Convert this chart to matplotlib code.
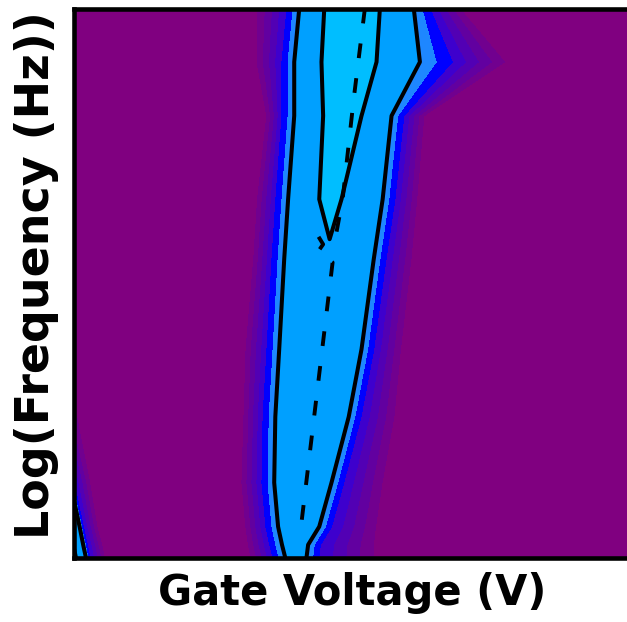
import numpy as np
import matplotlib
matplotlib.use('Agg')
import matplotlib.pyplot as plt

# Frequency rows (0 = lowest, 100 = highest), arbitrary units
freq_rows = [100, 90.3, 80.5, 65.3, 54.4, 38.0, 25.7, 13.7, 5.7, 2.4, 0]

# Gate-voltage positions of the response edges on each row
grad_left = [31.8, 31.8, 34.0, 32.2, 31.5, 30.0, 29.7, 29.3, 30.0, 30.4, 30.9]
blue_left = [38.3, 37.4, 37.4, 36.3, 35.6, 34.7, 34.0, 33.8, 34.5, 35.2, 35.8]
outer_left = [40.5, 39.6, 39.6, 38.5, 37.8, 36.9, 36.2, 36.0, 36.7, 37.4, 38.0]
inner_left = [45.0, 44.5, 44.8, 44.1, 41.8, 40.5, 39.4, 38.5, 38.5, 38.5, 38.9]
ridge_mid = [50.0, 49.5, 48.3, 46.1, 45.9, 44.3, 42.7, 41.0, 40.3, 39.8, 39.8]
inner_right = [55.0, 54.4, 51.7, 48.1, 49.9, 48.1, 45.9, 43.8, 42.3, 40.9, 40.7]
outer_right = [61.1, 62.2, 57.1, 55.5, 53.9, 51.7, 49.4, 46.3, 44.1, 42.1, 41.8]
blue_right = [64.0, 68.0, 59.3, 57.7, 56.1, 53.9, 51.6, 48.5, 46.3, 44.3, 44.0]
grad_right = [70.7, 79.7, 63.8, 62.6, 61.7, 59.9, 59.0, 57.1, 56.2, 56.2, 56.2]

# normalised response levels on each row
inner_level = [0.8, 0.8, 0.8, 0.8, 0.65, 0.65, 0.65, 0.65, 0.65, 0.65, 0.65]
peak_level = [1.0, 1.0, 1.0, 1.0, 0.7, 0.7, 0.7, 0.7, 0.7, 0.7, 0.7]

# second peak entering at the low-voltage / low-frequency corner
edge_level = [0, 0, 0, 0, 0, 0, 0.1, 0.45, 0.7, 0.78, 0.85]
edge_zero = [4.7, 4.7, 4.7, 4.7, 4.7, 4.7, 4.7, 3.5, 4.7, 5.6, 6.1]

# dashed ridge of maximum response
ridge_v = [52.3, 50.3, 48.3, 47.2, 43.9, 44.8, 43.9, 46.5, 40.9]
ridge_f = [100, 83.6, 65.3, 59.3, 58.6, 57.1, 55.8, 53.8, 6.4]

n = len(freq_rows)
X = np.column_stack([np.zeros(n), edge_zero, grad_left, blue_left, outer_left,
                     inner_left, ridge_mid, inner_right, outer_right,
                     blue_right, grad_right, np.full(n, 100.0)])
Y = np.repeat(np.array(freq_rows)[:, None], X.shape[1], axis=1)
Z = np.column_stack([edge_level, np.zeros(n), np.zeros(n), np.full(n, 0.45),
                     np.full(n, 0.55), inner_level, peak_level, inner_level,
                     np.full(n, 0.55), np.full(n, 0.45), np.zeros(n), np.zeros(n)])

levels = [-1, 0.09, 0.18, 0.27, 0.36, 0.45, 0.5, 0.55, 0.8, 1.1]
colors = ['#800080', '#71008f', '#6200a0', '#5200b4', '#3e00cd',
          '#0000ff', '#1e87ff', '#00a0ff', '#00beff']

fig = plt.figure(figsize=(6.27, 6.22), dpi=100)
ax = fig.add_axes([0.118, 0.103, 0.887, 0.883])
ax.set_facecolor('#800080')

ax.contourf(X, Y, Z, levels=levels, colors=colors)
ax.contour(X, Y, Z, levels=[0.55, 0.8], colors='k', linewidths=2.9)
ax.plot(ridge_v, ridge_f, color='k', lw=2.8, dashes=(3.8, 5.2))

ax.set_xlim(0, 100)
ax.set_ylim(0, 100)
ax.set_xticks([])
ax.set_yticks([])
for s in ax.spines.values():
    s.set_linewidth(3.3)

ax.set_xlabel('Gate Voltage (V)', labelpad=10, family='DejaVu Sans',
              weight='bold', size=30)
ax.set_ylabel('Log(Frequency (Hz))', family='DejaVu Sans',
              weight='bold', size=33)
ax.yaxis.set_label_coords(-0.027, 0.515)

fig.savefig('out.png', dpi=100)
